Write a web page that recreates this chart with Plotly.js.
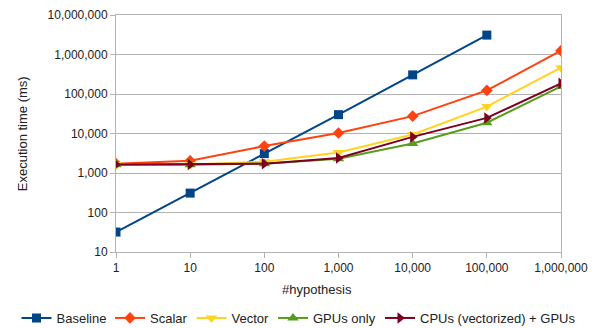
<!DOCTYPE html>
<html>
<head>
<meta charset="utf-8">
<script src="https://cdn.plot.ly/plotly-3.0.1.min.js"></script>
<style>html,body{margin:0;padding:0;background:#fff}#chart{width:602px;height:328px}</style>
</head>
<body>
<div id="chart"></div>
<script>
const hypotheses = [1, 10, 100, 1000, 10000, 100000, 1000000];
const baseline = [32, 310, 3100, 30000, 305000, 3100000];
const scalar = [1720, 2040, 4800, 10300, 27500, 123000, 1250000];
const vector = [1650, 1650, 1940, 3300, 9400, 48000, 465000];
const gpusOnly = [1620, 1620, 1720, 2300, 5600, 18700, 155000];
const cpusGpus = [1650, 1650, 1720, 2400, 8200, 24800, 186000];
const seriesNames = ["Baseline", "Scalar", "Vector", "GPUs only", "CPUs (vectorized) + GPUs"];
const xTitle = "#hypothesis";
const yTitle = "Execution time (ms)";

const colors = ["#004586", "#ff420e", "#ffd320", "#579d1c", "#7e0021"];
const symbols = ["square", "diamond", "triangle-down", "triangle-up", "triangle-right"];
const sizes = [9, 9, 10, 10, 10];
const allY = [baseline, scalar, vector, gpusOnly, cpusGpus];
// left edge (px) of each legend text in the reference
const legendTextX = [58.5, 152, 233.5, 315, 422];

const legendKeys = ["legend", "legend2", "legend3", "legend4", "legend5"];
const traces = allY.map((ys, i) => ({
  x: hypotheses.slice(0, ys.length),
  y: ys,
  name: seriesNames[i],
  type: "scatter",
  mode: "lines+markers",
  legend: legendKeys[i],
  line: {color: colors[i], width: 2},
  marker: {color: colors[i], symbol: symbols[i], size: sizes[i]}
}));

const font = {family: "Liberation Sans, Arial, sans-serif", size: 12, color: "#222"};
const bigFont = {family: "Liberation Sans, Arial, sans-serif", size: 13, color: "#222"};

const layout = {
  width: 602, height: 328,
  margin: {l: 115.5, r: 40.5, t: 15, b: 76},
  paper_bgcolor: "#fff", plot_bgcolor: "#fff",
  font: font,
  showlegend: true,
  xaxis: {
    type: "log", range: [0, 6], dtick: 1, tickformat: ",d",
    showgrid: false, showline: true, linecolor: "#b3b3b3", linewidth: 1, mirror: true,
    ticks: "outside", ticklen: 5, tickcolor: "#b3b3b3", zeroline: false,
    tickfont: font
  },
  yaxis: {
    type: "log", range: [1, 7], dtick: 1, tickformat: ",d",
    showgrid: true, gridcolor: "#b3b3b3", gridwidth: 1,
    showline: true, linecolor: "#b3b3b3", linewidth: 1, mirror: true,
    ticks: "outside", ticklen: 5, tickcolor: "#b3b3b3", zeroline: false,
    tickfont: font
  },
  annotations: [
    {text: xTitle, xref: "paper", yref: "paper", x: 0.452, y: -0.16, yanchor: "middle", xanchor: "center", showarrow: false, font: bigFont},
    {text: yTitle, xref: "paper", yref: "paper", x: -0.2096, y: 0.5, xanchor: "center", yanchor: "middle", textangle: -90, showarrow: false, font: bigFont}
  ]
};
legendKeys.forEach((k, i) => {
  layout[k] = {
    orientation: "h", xref: "container", yref: "container",
    x: (legendTextX[i] - 42) / 602, xanchor: "left",
    y: (328 - 318) / 328, yanchor: "middle",
    font: bigFont, itemwidth: 30, bgcolor: "rgba(0,0,0,0)"
  };
});

Plotly.newPlot("chart", traces, layout, {displayModeBar: false, staticPlot: true});
</script>
</body>
</html>
